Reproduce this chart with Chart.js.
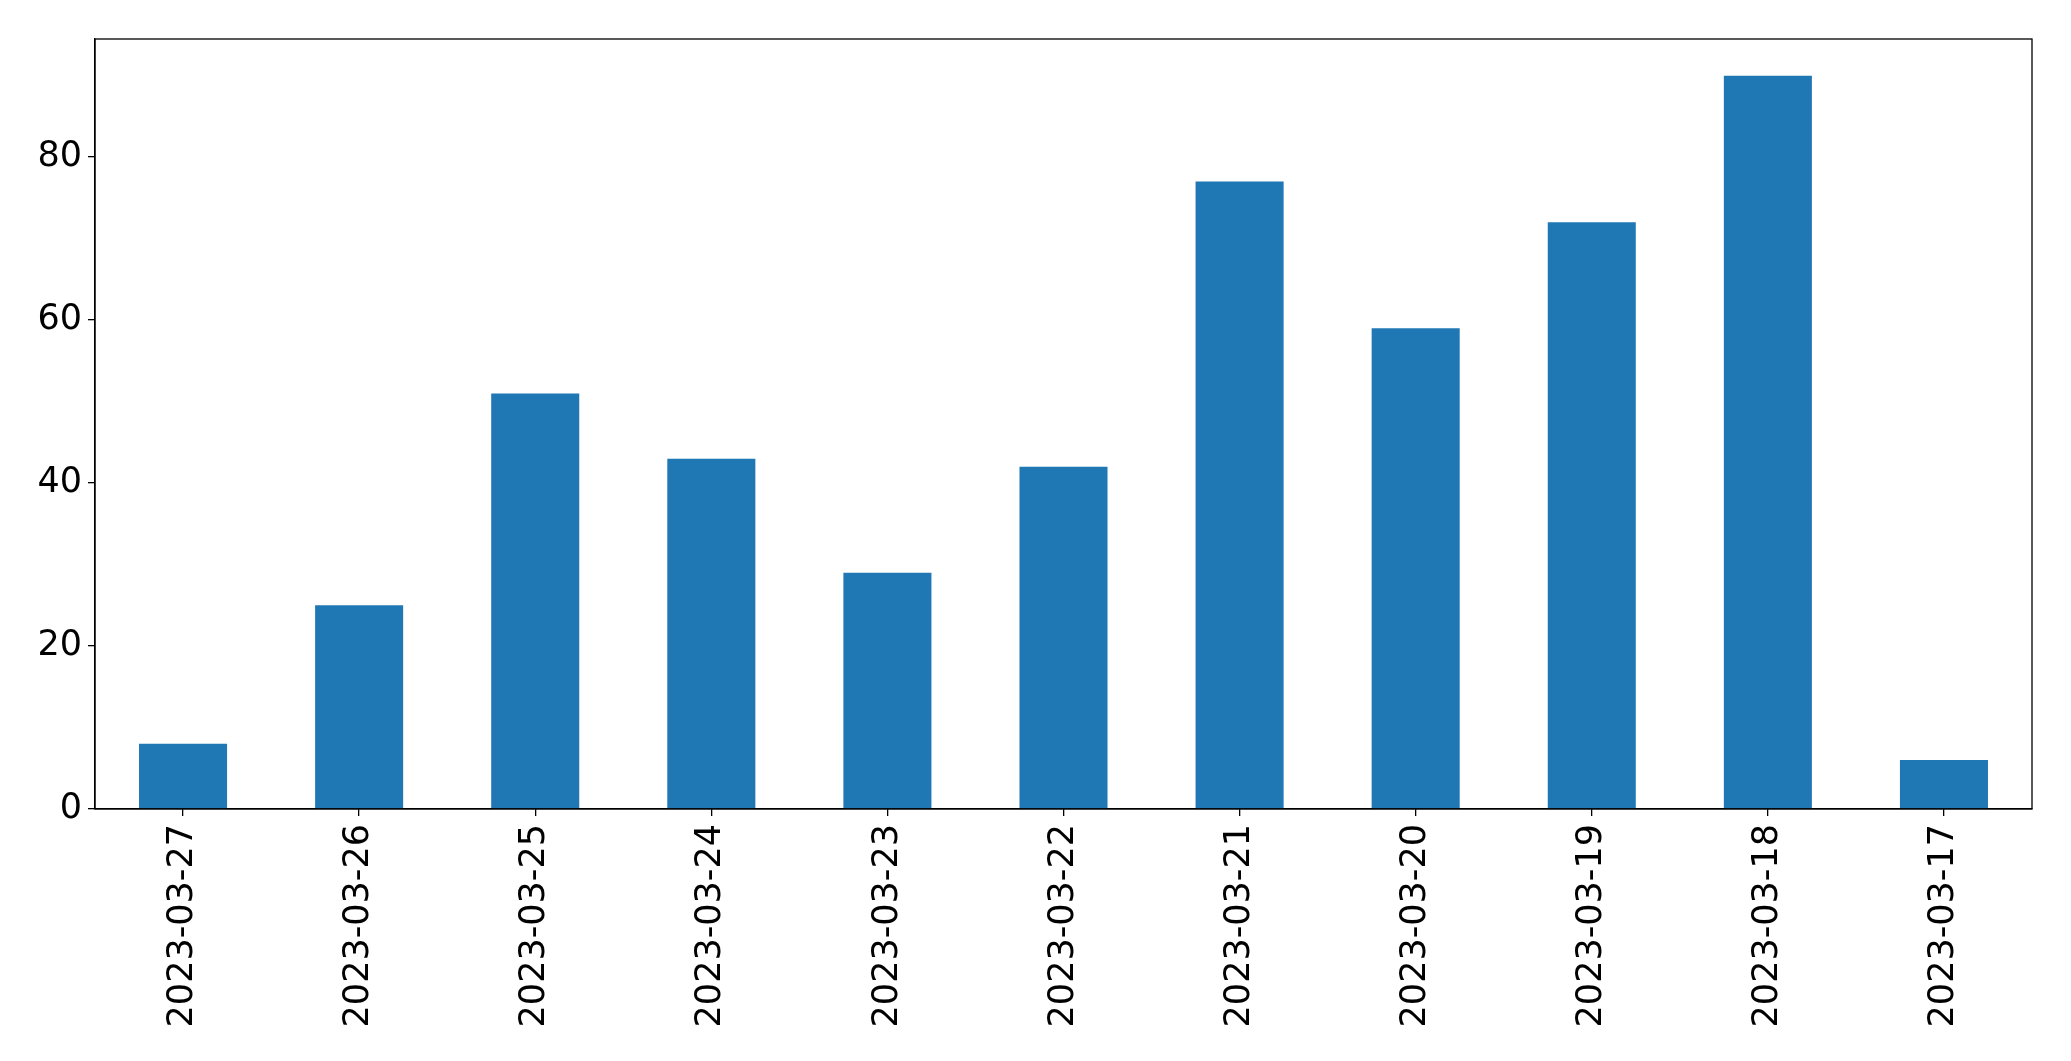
<!DOCTYPE html>
<html>
<head>
<meta charset="utf-8">
<script src="https://cdn.jsdelivr.net/npm/chart.js@4/dist/chart.umd.min.js"></script>
<style>
  html, body { margin: 0; padding: 0; background: #fff; }
  #wrap { width: 2071px; height: 1061px; position: relative; }
</style>
</head>
<body>
<div id="wrap"><canvas id="c"></canvas></div>
<script>
const categories = ["2023-03-27","2023-03-26","2023-03-25","2023-03-24","2023-03-23","2023-03-22","2023-03-21","2023-03-20","2023-03-19","2023-03-18","2023-03-17"];
const values = [8, 25, 51, 43, 29, 42, 77, 59, 72, 90, 6];
const yTicks = [0, 20, 40, 60, 80];

const frame = {
  id: 'frame',
  afterDatasetsDraw(chart) {
    const a = chart.chartArea, ctx = chart.ctx;
    ctx.save();
    ctx.strokeStyle = '#000';
    ctx.lineWidth = 1.3;
    ctx.strokeRect(a.left, a.top, a.right - a.left, a.bottom - a.top);
    ctx.restore();
  }
};

new Chart(document.getElementById('c'), {
  type: 'bar',
  data: {
    labels: categories,
    datasets: [{ data: values, backgroundColor: '#1f77b4', categoryPercentage: 1.0, barPercentage: 0.5 }]
  },
  options: {
    responsive: true,
    maintainAspectRatio: false,
    animation: false,
    layout: { padding: { top: 39, right: 39, bottom: 0, left: 0 } },
    plugins: { legend: { display: false }, tooltip: { enabled: false } },
    scales: {
      x: {
        offset: true,
        grid: { drawOnChartArea: false, drawTicks: true, tickLength: 7, color: '#000', lineWidth: 1.3, offset: false },
        border: { display: true, color: '#000', width: 1.3 },
        ticks: { color: '#000', font: { family: 'DejaVu Sans', size: 35 }, minRotation: 90, maxRotation: 90, autoSkip: false, padding: 8 },
        afterFit(s) { s.height = 252; }
      },
      y: {
        min: 0, max: 94.5,
        afterBuildTicks(s) { s.ticks = yTicks.map(v => ({ value: v })); },
        grid: { drawOnChartArea: false, drawTicks: true, tickLength: 7, color: '#000', lineWidth: 1.3 },
        border: { display: true, color: '#000', width: 1.3 },
        ticks: { color: '#000', font: { family: 'DejaVu Sans', size: 35 }, padding: 6 },
        afterFit(s) { s.width = 95; }
      }
    }
  },
  plugins: [frame]
});
</script>
</body>
</html>
